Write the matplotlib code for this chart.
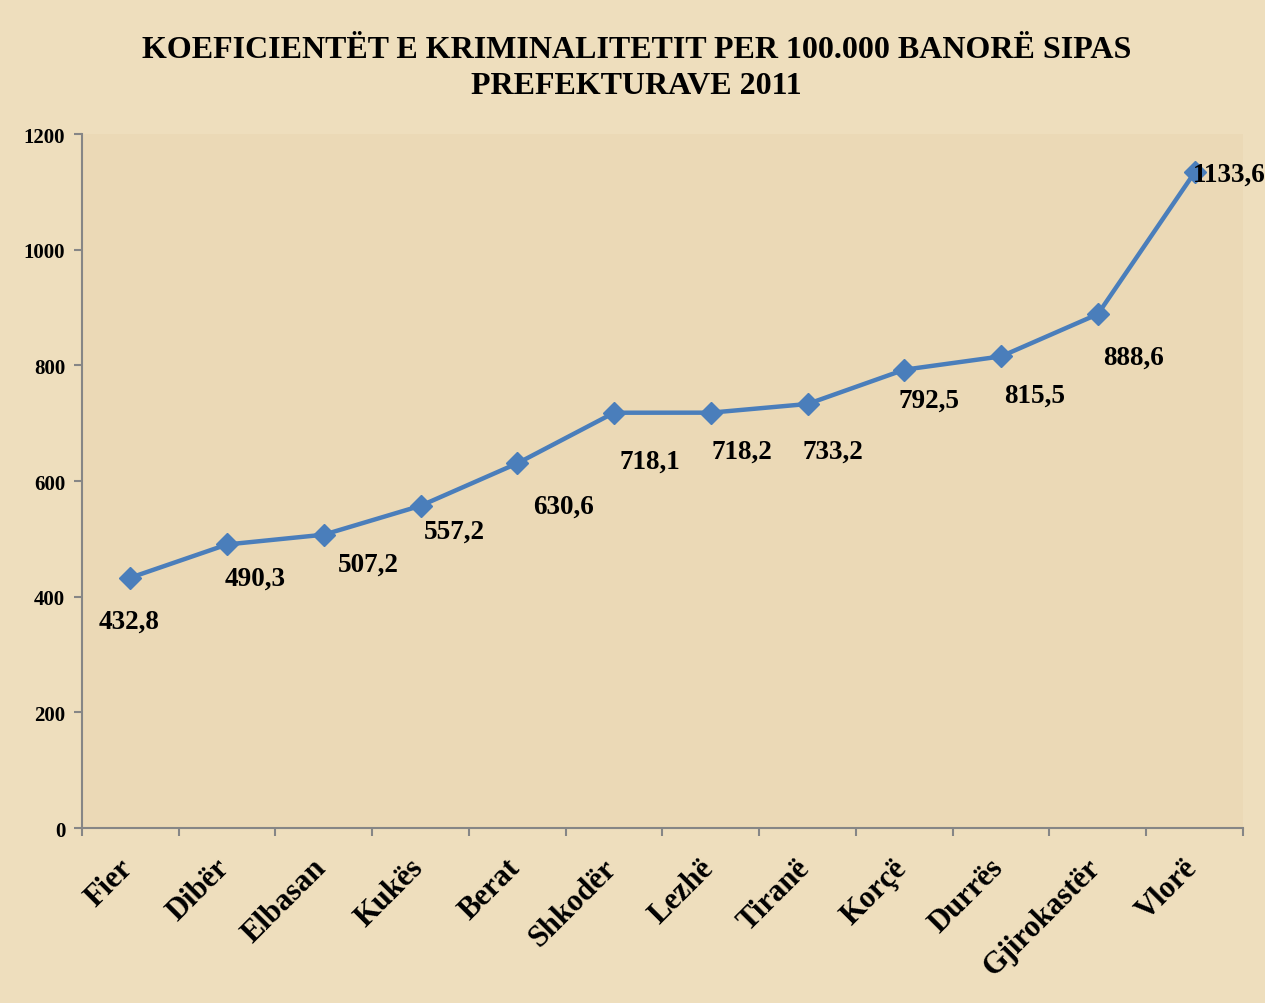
import matplotlib.pyplot as plt
import matplotlib.transforms as mtransforms

# data
prefektura = ['Fier', 'Dibër', 'Elbasan', 'Kukës', 'Berat', 'Shkodër',
              'Lezhë', 'Tiranë', 'Korçë', 'Durrës', 'Gjirokastër', 'Vlorë']
koeficienti = [432.8, 490.3, 507.2, 557.2, 630.6, 718.1,
               718.2, 733.2, 792.5, 815.5, 888.6, 1133.6]
etiketa = ['432,8', '490,3', '507,2', '557,2', '630,6', '718,1',
           '718,2', '733,2', '792,5', '815,5', '888,6', '1133,6']

# label offsets in points (where excel put the labels)
offsets = [(-1, -31), (20, -24), (32, -21), (24, -18), (33, -31), (26, -35),
           (22, -28), (18, -34), (18, -22), (24, -28), (26, -31), (25, -1)]

bg = '#EEDEBD'
blue = '#4A7EBB'
plt.rcParams['font.family'] = ['Liberation Serif', 'DejaVu Serif']

fig = plt.figure(figsize=(12.65, 10.04), dpi=100, facecolor=bg)
ax = fig.add_axes([0.0648, 0.1743, 0.9178, 0.6912])
ax.set_facecolor('#EBD9B6')

x = list(range(len(prefektura)))
ax.plot(x, koeficienti, color=blue, lw=3.2, marker='D', markersize=11,
        markerfacecolor=blue, markeredgecolor=blue)

for xi, yi, t, (dx, dy) in zip(x, koeficienti, etiketa, offsets):
    ax.annotate(t, (xi, yi), xytext=(dx, dy), textcoords='offset points',
                ha='center', va='center', fontsize=19.5, fontweight='bold')

ax.set_xlim(-0.5, len(prefektura) - 0.5)
ax.set_ylim(0, 1200)
ax.set_yticks(range(0, 1201, 200))
ax.set_xticks([i - 0.5 for i in range(len(prefektura) + 1)])
ax.set_xticklabels([])
ax.set_xticks(x, minor=True)
ax.set_xticklabels(prefektura, minor=True, rotation=45, ha='right', va='top',
                   rotation_mode='anchor', fontsize=22, fontweight='bold')
ax.tick_params(axis='x', which='minor', length=0, pad=18)
ax.tick_params(axis='x', which='major', length=6, width=1.5, color='#868686')
ax.tick_params(axis='y', length=6, width=1.5, color='#868686', labelsize=15, pad=6)
for lab in ax.get_yticklabels():
    lab.set_fontweight('bold')

shift = mtransforms.ScaledTranslation(-12 / 100, 0, fig.dpi_scale_trans)
for lab in ax.get_xticklabels(minor=True):
    lab.set_transform(lab.get_transform() + shift)

for s in ['top', 'right']:
    ax.spines[s].set_visible(False)
for s in ['left', 'bottom']:
    ax.spines[s].set_color('#868686')
    ax.spines[s].set_linewidth(1.5)

fig.text(0.503, 0.932, 'KOEFICIENTËT E KRIMINALITETIT PER 100.000 BANORË SIPAS\nPREFEKTURAVE 2011',
         ha='center', va='center', fontsize=23, fontweight='bold', linespacing=1.3)

fig.savefig('out.png', dpi=100, facecolor=bg)
